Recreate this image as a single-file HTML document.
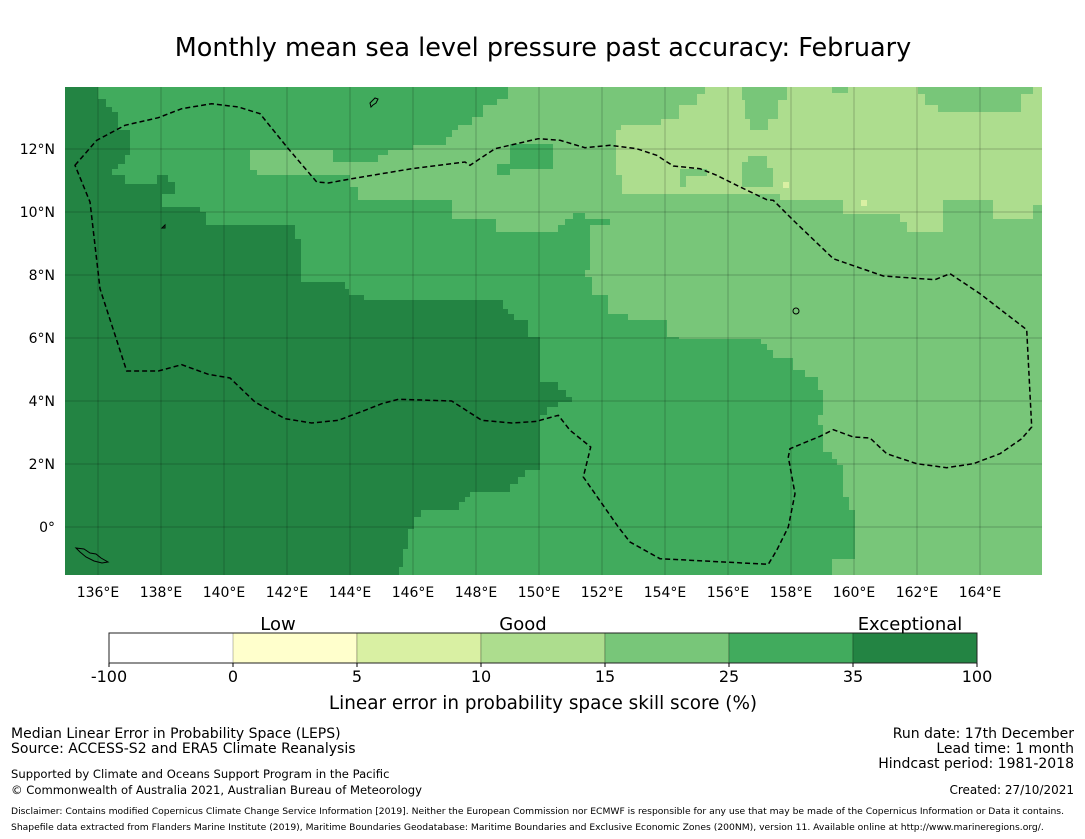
<!DOCTYPE html>
<html><head><meta charset="utf-8"><style>
body{margin:0;background:#fff;width:1085px;height:839px;overflow:hidden;font-family:"DejaVu Sans","Liberation Sans",sans-serif;}
svg{display:block}
text{font-family:"DejaVu Sans","Liberation Sans",sans-serif;fill:#000}
</style></head><body>
<svg id="chart" width="1085" height="839" viewBox="0 0 1085 839">
<text x="543" y="56" font-size="25.5" text-anchor="middle">Monthly mean sea level pressure past accuracy: February</text>
<defs><clipPath id="mapclip"><rect x="65" y="87" width="977" height="488"/></clipPath></defs>
<g clip-path="url(#mapclip)">
<rect x="65" y="87" width="977" height="488" fill="#78c679"/>
<polygon fill="#41ab5d" points="65,87 508,87 508,99 497,99 497,105 483,105 483,117 472,117 472,125 458,125 458,130 452,130 452,137 446,137 446,145 413,145 413,150 388,150 388,155 378,155 378,162 333,162 333,150 250,150 250,170 257,170 257,175 350,175 350,187 358,187 358,200 452,200 452,219 496,219 496,232 558,232 558,225 565,225 565,219 573,219 573,213 585,213 585,219 610,219 610,225 590,225 590,270 585,270 585,277 592,277 592,295 608,295 608,314 628,314 628,320 667,320 667,337 679,337 679,339 761,339 761,344 767,344 767,350 773,350 773,358 793,358 793,370 805,370 805,377 818,377 818,390 823,390 823,415 818,415 818,425 823,425 823,452 832,452 832,459 837,459 837,465 843,465 843,497 849,497 849,510 855,510 855,559 832,559 832,575 65,575"/>
<polygon fill="#41ab5d" points="510,144 553,144 553,169 510,169 510,175 497,175 497,164 510,164"/>
<polygon fill="#238443" points="65,87 98,87 98,99 106,99 106,107 112,107 112,112 118,112 118,130 130,130 130,155 125,155 125,164 118,164 118,169 112,169 112,175 125,175 125,184 157,184 157,175 168,175 168,182 175,182 175,194 162,194 162,207 200,207 200,212 206,212 206,225 295,225 295,239 301,239 301,282 345,282 345,289 349,289 349,295 364,295 364,300 503,300 503,309 508,309 508,314 514,314 514,320 528,320 528,337 540,337 540,382 558,382 558,390 566,390 566,397 572,397 572,402 558,402 558,407 547,407 547,415 540,415 540,470 525,470 525,477 518,477 518,484 510,484 510,492 470,492 470,497 465,497 465,502 459,502 459,510 421,510 421,517 414,517 414,529 408,529 408,549 403,549 403,567 399,567 399,575 65,575"/>
<polygon fill="#addd8e" points="705,87 1042,87 1042,205 1033,205 1033,219 993,219 993,200 943,200 943,232 907,232 907,222 900,222 900,214 843,214 843,200 780,200 780,194 622,194 622,175 616,175 616,130 621,130 621,125 661,125 661,119 679,119 679,105 697,105 697,94 705,94"/>
<g fill="#78c679">
<polygon points="742,87 787,87 787,100 778,100 778,119 768,119 768,130 750,130 750,119 745,119 745,100 742,100"/>
<polygon points="748,156 767,156 767,168 773,168 773,187 742,187 742,162 748,162"/>
<polygon points="680,169 707,169 707,176 686,176 686,187 680,187"/>
<polygon points="832,87 848,87 848,93 832,93"/>
<polygon points="918,87 1033,87 1033,94 1021,94 1021,112 938,112 938,105 925,105 925,94 918,94"/>
</g>
<rect x="783" y="182" width="6" height="6" fill="#d9f0a3"/>
<rect x="861" y="200" width="6" height="6" fill="#d9f0a3"/>
<g id="grid"></g>
<polygon fill="none" stroke="#000" stroke-width="1.5" stroke-dasharray="5,3" points="75,165.3 96.7,140.3 125,125.3 158.3,117.7 181.7,108.7 211.7,103.7 238.3,107 260,113.7 288.3,148.7 316.7,182 328.3,183 351.7,178.7 411.7,168.7 465,162 470,165.3 495,148.7 538.3,138.7 560,140.3 585,147.7 610,145.3 636.7,148.7 656.7,155.3 673.3,166 700,168.7 716.7,175.3 736.7,185.3 766.7,199.7 773.3,200.3 793.3,220.3 833.3,258.7 883.3,276 935,279.7 950,273.7 980,293.7 1026.7,329.7 1031.7,427 1021.7,438.7 1000,453.7 973.3,463.7 946.7,467.7 916.7,463.7 886.7,453.7 870,438 853.3,437 833.3,429.7 820,436.3 790,448.7 788.3,457 795,493.7 788.3,527 776.7,550.3 768.3,564.3 660,558.7 630,542 618.3,527 583.3,477 590.7,447 570,430.3 558.3,415.3 540,420.3 538.3,421.3 511.7,423 481.7,420.3 451.7,401 398.3,399.3 381.7,403.7 365,410.3 338.3,420.3 311.7,423 285,418.7 255,402 230,378 208.3,374.3 181.7,364.7 158.3,371 126.7,371 100,288.7 90,202"/>
<g fill="none" stroke="#000" stroke-width="1">
<path d="M370,103 l3,-3 l2,-2 l3,1 l-2,4 l-3,2 l-2,2 z"/>
<path d="M76,548 l8,1 l6,4 l6,1 l5,4 l7,4 l-6,1 l-8,-2 l-8,-4 l-6,-5 z"/>
<circle cx="796" cy="311" r="3"/>
<path d="M162,228 l3,-3 l0,3 z"/>
</g>
</g>
<g id="ticks"></g>
<g id="cbar"></g>
<text x="278" y="630" font-size="18" text-anchor="middle">Low</text>
<text x="523" y="630" font-size="18" text-anchor="middle">Good</text>
<text x="910" y="630" font-size="18" text-anchor="middle">Exceptional</text>
<text x="543" y="709" font-size="18.4" text-anchor="middle">Linear error in probability space skill score (%)</text>
<g font-size="14">
<text x="11" y="738">Median Linear Error in Probability Space (LEPS)</text>
<text x="11" y="753">Source: ACCESS-S2 and ERA5 Climate Reanalysis</text>
</g>
<g font-size="11.6">
<text x="11" y="778">Supported by Climate and Oceans Support Program in the Pacific</text>
<text x="11" y="794">© Commonwealth of Australia 2021, Australian Bureau of Meteorology</text>
</g>
<g font-size="14" text-anchor="end">
<text x="1074" y="738">Run date: 17th December</text>
<text x="1074" y="753">Lead time: 1 month</text>
<text x="1074" y="768">Hindcast period: 1981-2018</text>
<text x="1074" y="794" font-size="12">Created: 27/10/2021</text>
</g>
<g font-size="9.2">
<text x="11" y="814">Disclaimer: Contains modified Copernicus Climate Change Service Information [2019]. Neither the European Commission nor ECMWF is responsible for any use that may be made of the Copernicus Information or Data it contains.</text>
<text x="11" y="830">Shapefile data extracted from Flanders Marine Institute (2019), Maritime Boundaries Geodatabase: Maritime Boundaries and Exclusive Economic Zones (200NM), version 11. Available online at http://www.marineregions.org/.</text>
</g>
</svg>
<script>
const lonTicks=[136,138,140,142,144,146,148,150,152,154,156,158,160,162,164];
const latTicks=[12,10,8,6,4,2,0];
const cbLabels=["-100","0","5","10","15","25","35","100"];
const cbColors=["#ffffff","#ffffcc","#d9f0a3","#addd8e","#78c679","#41ab5d","#238443"];
const NS="http://www.w3.org/2000/svg";
function xLon(l){return 98+(l-136)*31.5;}
function yLat(l){return 527-l*31.5;}
function mk(t,a,p){const e=document.createElementNS(NS,t);for(const k in a)e.setAttribute(k,a[k]);p.appendChild(e);return e;}
const grid=document.getElementById('grid'),ticks=document.getElementById('ticks'),cb=document.getElementById('cbar');
lonTicks.forEach(l=>{
 const ln=mk('line',{x1:xLon(l),x2:xLon(l),y1:87,y2:575,stroke:'rgba(0,0,0,0.22)','stroke-width':1},grid);
 
 
 const t=mk('text',{x:xLon(l),y:597,'font-size':14,'text-anchor':'middle'},ticks);
 t.textContent=l+'°E';
 
 
});
latTicks.forEach(l=>{
 const ln=mk('line',{x1:65,x2:1042,y1:yLat(l),y2:yLat(l),stroke:'rgba(0,0,0,0.22)','stroke-width':1},grid);
 
 
 const t=mk('text',{x:55,y:yLat(l)+5,'font-size':14,'text-anchor':'end'},ticks);
 t.textContent=l===0?'0°':l+'°N';
 
 
});
const cbX0=109,cbX1=977,cbY=633,cbH=30,segW=(cbX1-cbX0)/cbColors.length;
cbColors.forEach((c,i)=>{
 const r=mk('rect',{x:cbX0+i*segW,y:cbY,width:segW,height:cbH,fill:c,stroke:i>0?'rgba(0,0,0,0.25)':'none','stroke-width':1},cb);
 
 
});
const ol=mk('rect',{x:cbX0,y:cbY,width:cbX1-cbX0,height:cbH,fill:'none',stroke:'#222','stroke-width':1},cb);


cbLabels.forEach((s,i)=>{
 const x=cbX0+i*segW;
 const tk=mk('line',{x1:x,x2:x,y1:cbY+cbH,y2:cbY+cbH+4,stroke:'#000'},cb);
 
 
 const t=mk('text',{x:x,y:682,'font-size':16,'text-anchor':'middle'},cb);
 t.textContent=s;
 
 
});
</script>
</body></html>
